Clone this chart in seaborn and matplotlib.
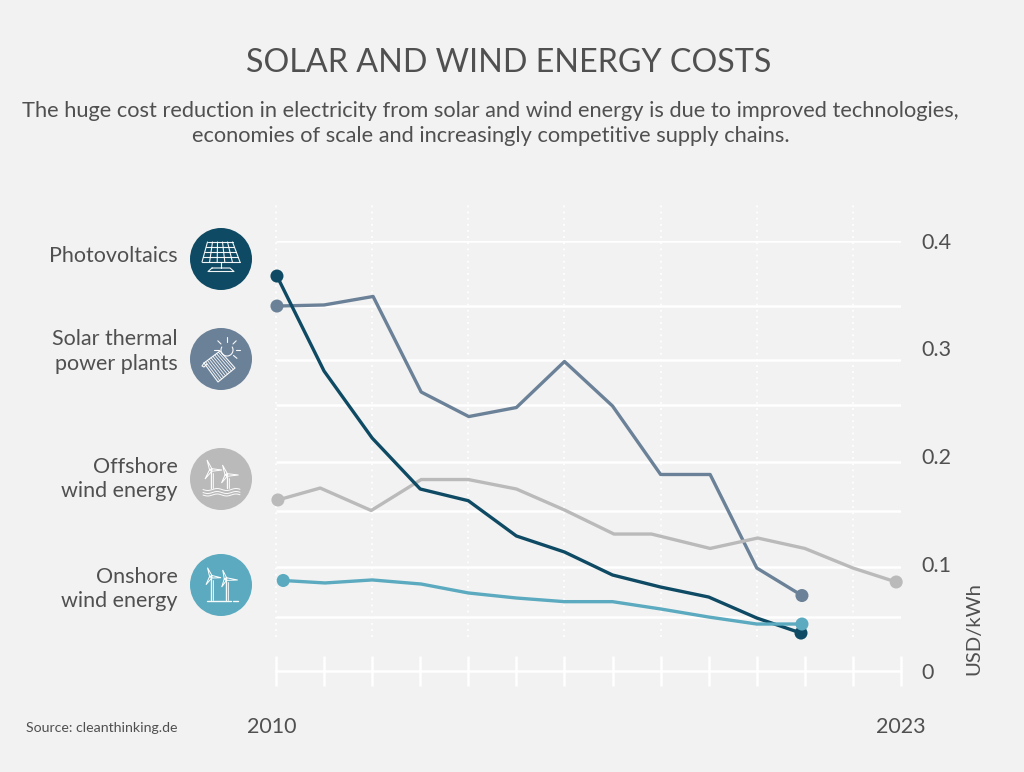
import numpy as np
import pandas as pd
import matplotlib
matplotlib.use("Agg")
import matplotlib.pyplot as plt
import matplotlib.patches as mpatches
import matplotlib.transforms as mtrans
import seaborn as sns

# --- data ---
SERIES = ["Solar thermal", "Offshore", "Photovoltaics", "Onshore"]

pv_years = [2010.02, 2011, 2012, 2013, 2014, 2015, 2016, 2017, 2018, 2019, 2020, 2020.92]
pv_cost = [0.3674, 0.279, 0.2167, 0.1693, 0.1584, 0.1256, 0.1107, 0.0893, 0.0781, 0.0688, 0.0493, 0.0353]

thermal_years = [2010.02, 2011, 2012.02, 2013.02, 2014.01, 2015, 2016, 2017, 2018, 2019.03, 2020, 2020.94]
thermal_cost = [0.3395, 0.3405, 0.3484, 0.2595, 0.2367, 0.2451, 0.2879, 0.2465, 0.1828, 0.1828, 0.0958, 0.0702]

offshore_years = [2010.04, 2010.92, 2011.98, 2013.02, 2014, 2015, 2016, 2017.03, 2017.81, 2019.03, 2020.02, 2021, 2022, 2022.9]
offshore_cost = [0.1591, 0.1702, 0.1493, 0.1781, 0.1781, 0.1693, 0.1498, 0.1274, 0.1274, 0.114, 0.1237, 0.114, 0.0958, 0.0828]

onshore_years = [2010.15, 2011.02, 2012, 2013.02, 2014, 2015, 2016, 2017, 2018, 2019, 2020, 2020.94]
onshore_cost = [0.0842, 0.0819, 0.0847, 0.0809, 0.0726, 0.0679, 0.0645, 0.0645, 0.0577, 0.0502, 0.0437, 0.0437]

grid_values = [0.0505, 0.097, 0.149, 0.194, 0.247, 0.289, 0.3395, 0.4]
dotted_years = [2010, 2012, 2014, 2016, 2018, 2020, 2022]
year_ticks = list(range(2010, 2024))
cost_ticks = [0, 0.1, 0.2, 0.3, 0.4]
cost_labels = ["0", "0.1", "0.2", "0.3", "0.4"]

DARK = "#0e4a63"
SLATE = "#6b8198"
GREY = "#bababa"
TEAL = "#5baabf"
BG = "#f2f2f2"
TEXT = "#505050"
colors = {"Photovoltaics": DARK, "Solar thermal": SLATE, "Offshore": GREY, "Onshore": TEAL}

rows = []
for name, yrs, vals in [("Solar thermal", thermal_years, thermal_cost),
                        ("Offshore", offshore_years, offshore_cost),
                        ("Photovoltaics", pv_years, pv_cost),
                        ("Onshore", onshore_years, onshore_cost)]:
    rows.append(pd.DataFrame({"series": name, "year": yrs, "cost": vals}))
df = pd.concat(rows, ignore_index=True)
ends = df.groupby("series", sort=False).nth([0, -1])

sns.set_style("white")
plt.rcParams["font.family"] = ["Lato", "DejaVu Sans"]
W, H = 1024, 772
fig = plt.figure(figsize=(W / 100, H / 100), dpi=100, facecolor=BG)

# axes placed so 2010..2023 and 0..0.4 land where the original has them
ax = fig.add_axes([276 / W, 1 - 671 / H, 625 / W, 430 / H], facecolor=BG)
ax.set_xlim(2010, 2023)
ax.set_ylim(0, 0.4)

ax.hlines(grid_values, 2010, 2023, color="white", linewidth=1.8, zorder=1)
ax.vlines(dotted_years, 0.0316, 0.4335, color="white", linewidth=1.3,
          linestyle=(0, (1, 2.4)), clip_on=False, zorder=1)

sns.lineplot(data=df, x="year", y="cost", hue="series", hue_order=SERIES, palette=colors,
             units="series", estimator=None, sort=False, linewidth=2.4, legend=False,
             ax=ax, clip_on=False, zorder=2)
sns.scatterplot(data=ends, x="year", y="cost", hue="series", hue_order=SERIES, palette=colors,
                s=88, linewidth=0, legend=False, ax=ax, clip_on=False, zorder=3)

for side in ["top", "left", "right"]:
    ax.spines[side].set_visible(False)
ax.spines["bottom"].set_color("white")
ax.spines["bottom"].set_linewidth(1.8)

ax.set_xticks(year_ticks)
ax.set_xticklabels(["2010"] + [""] * 12 + ["2023"])
ax.tick_params(axis="x", direction="inout", length=21.6, width=1.8, color="white",
               labelcolor=TEXT, labelsize=15.5, pad=22.5, bottom=True)
ax.get_xticklabels()[0].set_transform(ax.get_xticklabels()[0].get_transform()
                                      + mtrans.ScaledTranslation(-4.5 / 100, 0, fig.dpi_scale_trans))
ax.yaxis.tick_right()
ax.set_yticks(cost_ticks)
ax.set_yticklabels(cost_labels)
ax.tick_params(axis="y", length=0, labelcolor=TEXT, labelsize=15.5, pad=15)
ax.set_xlabel("")
ax.set_ylabel("USD/kWh", color=TEXT, fontsize=14.6)
ax.yaxis.set_label_position("right")
ax.yaxis.set_label_coords((965 - 276) / 625, (671 - 629) / 430)

# overlay in pixel coordinates for the texts and icons
ov = fig.add_axes([0, 0, 1, 1], facecolor="none")
ov.set_xlim(0, W)
ov.set_ylim(H, 0)
ov.axis("off")

ov.text(509, 63, "SOLAR AND WIND ENERGY COSTS", ha="center", va="center", color=TEXT, fontsize=23.25)
ov.text(490.5, 111, "The huge cost reduction in electricity from solar and wind energy is due to improved technologies,",
        ha="center", va="center", color=TEXT, fontsize=15.7)
ov.text(490.5, 136, "economies of scale and increasingly competitive supply chains.",
        ha="center", va="center", color=TEXT, fontsize=15.7)
ov.text(26, 728, "Source: cleanthinking.de", ha="left", va="center", color=TEXT, fontsize=10.2)

side_labels = [(256, "Photovoltaics"), (339, "Solar thermal"), (364, "power plants"),
               (467, "Offshore"), (491, "wind energy"), (577, "Onshore"), (601, "wind energy")]
for y, label in side_labels:
    ov.text(177.5, y, label, ha="right", va="center", color=TEXT, fontsize=15.5)

# --- icons ---
ICON_LW = 0.8


def stroke(xs, ys, lw=ICON_LW):
    ov.plot(xs, ys, color="white", linewidth=lw, solid_capstyle="round", alpha=0.95)


def solar_panel(cx, cy):
    x_top, x_bot = (-13.5, 11.5), (-19, 19)
    y_top, y_bot = cy - 17, cy + 3
    for f in np.linspace(0, 1, 6):
        stroke([cx + x_top[0] + f * (x_top[1] - x_top[0]), cx + x_bot[0] + f * (x_bot[1] - x_bot[0])],
               [y_top, y_bot])
    for f in np.linspace(0, 1, 5):
        xl = cx + x_top[0] + f * (x_bot[0] - x_top[0])
        xr = cx + x_top[1] + f * (x_bot[1] - x_top[1])
        stroke([xl, xr], [y_top + f * 20, y_top + f * 20])
    stroke([cx, cx], [cy + 3, cy + 9])
    stroke([cx - 9, cx + 9, cx + 13, cx - 13, cx - 9],
           [cy + 9, cy + 9, cy + 12.5, cy + 12.5, cy + 9])


def thermal_collector(cx, cy):
    sx, sy = cx + 6, cy - 16
    t = np.linspace(np.radians(150), np.radians(390), 30)
    stroke(sx + 6 * np.cos(t), sy - 6 * np.sin(t))
    for a in [0, 45, 90, 135, 180, -40]:
        r = np.radians(a)
        stroke([sx + 8.5 * np.cos(r), sx + 13 * np.cos(r)], [sy - 8.5 * np.sin(r), sy - 13 * np.sin(r)])
    a, b, c, d = np.array([-17, -3.0]), np.array([-1, -15.0]), np.array([14, 2.0]), np.array([-3, 16.0])
    stroke(np.array([a[0], b[0], c[0], d[0], a[0]]) + cx, np.array([a[1], b[1], c[1], d[1], a[1]]) + cy)
    for f in np.linspace(0.1, 0.9, 8):
        p, q = a + f * (b - a), d + f * (c - d)
        stroke([p[0] + cx, q[0] + cx], [p[1] + cy, q[1] + cy], 0.6)
    stroke([cx - 17, cx - 19, cx - 17, cx - 14], [cy - 3, cy + 0, cy + 1, cy - 2])


def turbine(hx, hy, base, blades):
    stroke([hx, hx], [hy + 2, base], 1.0)
    stroke([hx + 2, hx + 2], [hy + 3, base], 0.6)
    for dx, dy in blades:
        n = np.hypot(dx, dy)
        px, py = -dy / n * 1.4, dx / n * 1.4
        ov.add_patch(mpatches.Polygon([(hx + px, hy + py), (hx + dx, hy + dy), (hx - px, hy - py)],
                                      closed=True, fill=False, edgecolor="white", linewidth=0.7, zorder=5))


def waves(x0, x1, ys):
    t = np.linspace(x0, x1, 80)
    for y in ys:
        stroke(t, y + 1.0 * np.sin((t - x0) / 3.0), 0.7)


icons = [(221, 259, DARK), (221, 359, SLATE), (221, 479, GREY), (221, 585, TEAL)]
for cx, cy, col in icons:
    ov.add_patch(mpatches.Circle((cx, cy), 31, facecolor=col, edgecolor="none", zorder=1))

solar_panel(221, 259)
thermal_collector(221, 366)
turbine(211, 470, 488, [(-4, -10), (11, 0), (-6, 9)])
turbine(226.5, 475, 488, [(-4, -10), (12, 0), (-5, 8)])
waves(203, 240, [489.5, 492.5, 495])
turbine(211, 576.7, 600, [(-3.5, -9), (10, 1), (-5, 8)])
turbine(225.7, 579, 600, [(-3, -9), (12, 1), (-4, 8)])
stroke([206.5, 231], [600.5, 600.5], 1.0)
stroke([233, 238], [600.5, 600.5], 1.0)

fig.savefig("out.png", dpi=100, facecolor=BG)
plt.close()
